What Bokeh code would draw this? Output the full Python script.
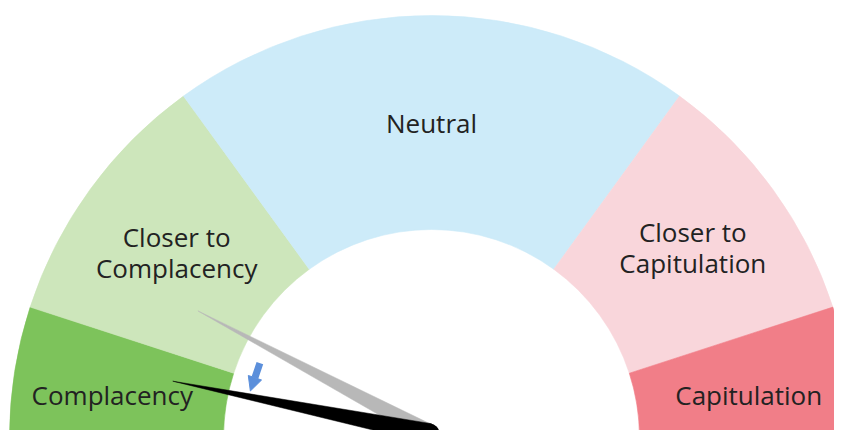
import math
from bokeh.plotting import figure
from bokeh.models import Range1d, Arrow, NormalHead
from bokeh.core.properties import value
from bokeh.embed import file_html
from bokeh.resources import INLINE

# ---- data ----
segment_labels = ["Complacency", "Closer to\nComplacency", "Neutral",
                  "Closer to\nCapitulation", "Capitulation"]
segment_start = [0, 10, 30, 70, 90]
segment_end = [10, 30, 70, 90, 100]
segment_colors = ["#7dc35b", "#cde6bb", "#cdebf9", "#f9d6db", "#f17e88"]
current_value = 6.4     # black needle
previous_value = 15.5   # grey needle
arrow_from = 13.0
arrow_to = 8.0

# ---- geometry (1 data unit = 1 px) ----
W, H = 834, 430
CX, CY = 431, 437          # gauge centre in picture pixels
R_OUT, R_IN = 422, 208
PIVOT_X, PIVOT_Y = -2, 4
NEEDLE_LEN = 262


def ang(v):
    return math.pi * (1 - v / 100.0)


p = figure(width=W, height=H,
           x_range=Range1d(-CX, W - CX),
           y_range=Range1d(CY - H, CY),
           output_backend="svg", toolbar_location=None, min_border=0)
p.axis.visible = False
p.grid.visible = False
p.outline_line_color = None
p.background_fill_color = "white"
p.border_fill_color = "white"

p.annular_wedge(x=0, y=0, inner_radius=R_IN, outer_radius=R_OUT,
                start_angle=[ang(e) for e in segment_end],
                end_angle=[ang(s) for s in segment_start],
                fill_color=segment_colors, line_color=segment_colors,
                line_width=0.6)

# labels placed along each segment
lab_x, lab_y = [], []
for s, e in zip(segment_start, segment_end):
    if s == 0:
        m, r = s + 0.42 * (e - s), 322
    elif e == 100:
        m, r = e - 0.42 * (e - s), 320
    elif e == 90:
        m, r = (s + e) / 2.0, 323
    else:
        m, r = (s + e) / 2.0, 315
    lab_x.append(r * math.cos(ang(m)))
    lab_y.append(r * math.sin(ang(m)))
p.text(x=lab_x, y=lab_y, text=segment_labels, text_font=value("Open Sans"),
       text_font_size="26px", text_align="center", text_baseline="middle",
       text_color="#222222", text_line_height=0.88)


def needle(v, half_w, color):
    a = ang(v)
    dx, dy = math.cos(a), math.sin(a)
    nx, ny = -dy, dx
    xs = [PIVOT_X + nx * half_w, PIVOT_X + dx * NEEDLE_LEN, PIVOT_X - nx * half_w]
    ys = [PIVOT_Y + ny * half_w, PIVOT_Y + dy * NEEDLE_LEN, PIVOT_Y - ny * half_w]
    p.patch(xs, ys, fill_color=color, line_color=color, line_width=0.5)


needle(previous_value, 9, "#b8b8b8")
needle(current_value, 10, "#000000")
p.circle(x=[PIVOT_X], y=[PIVOT_Y], radius=10, fill_color="#000000", line_color=None)

blue = "#5b8fdb"
ra = 187
p.add_layout(Arrow(end=NormalHead(size=14, fill_color=blue, line_color=blue),
                   line_color=blue, line_width=7,
                   x_start=ra * math.cos(ang(arrow_from)), y_start=ra * math.sin(ang(arrow_from)),
                   x_end=ra * math.cos(ang(arrow_to)), y_end=ra * math.sin(ang(arrow_to))))

open("out.html", "w").write(file_html(p, INLINE))
